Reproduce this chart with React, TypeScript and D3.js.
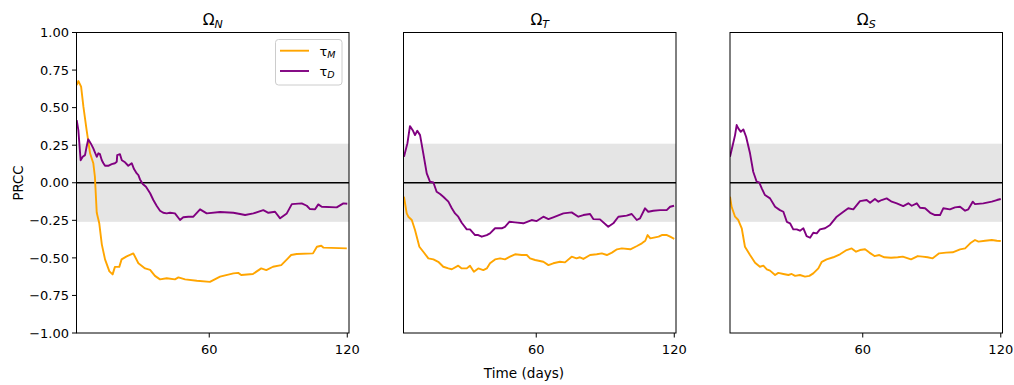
import React from 'react';
import * as d3 from 'd3';

// ---- data: [day, PRCC] ----
const omegaN_tauM: [number, number][] = [
  [2.4, 0.65], [3.1, 0.677], [4.3, 0.64], [5.3, 0.506], [6.7, 0.35], [8.2, 0.196], [9.6, 0.13], [10.3, 0.04],
  [11.1, -0.2], [12.2, -0.27], [13.3, -0.41], [14.7, -0.51], [16.6, -0.59], [18.0, -0.61], [19.0, -0.56],
  [20.9, -0.56], [21.9, -0.51], [24.1, -0.49], [27.0, -0.47], [29.2, -0.536], [32.1, -0.57], [34.3, -0.58],
  [36.4, -0.62], [38.6, -0.643], [41.5, -0.636], [45.1, -0.643], [46.6, -0.63], [49.5, -0.643], [54.6, -0.652],
  [60.3, -0.66], [64.7, -0.625], [70.5, -0.603], [72.6, -0.6], [73.9, -0.614], [79.0, -0.607], [82.6, -0.57],
  [84.8, -0.581], [87.7, -0.559], [91.3, -0.548], [94.2, -0.503], [95.6, -0.481], [98.0, -0.474], [105.1, -0.47],
  [106.8, -0.426], [108.7, -0.419], [109.7, -0.432], [119.8, -0.437],
];
const omegaN_tauD: [number, number][] = [
  [2.4, 0.417], [3.1, 0.35], [4.1, 0.15], [5.0, 0.173], [6.0, 0.184], [6.7, 0.24], [7.4, 0.289], [8.5, 0.262],
  [9.6, 0.229], [11.1, 0.173], [11.8, 0.196], [12.5, 0.19], [13.3, 0.15], [14.0, 0.13], [14.7, 0.113],
  [16.1, 0.113], [17.6, 0.124], [19.0, 0.13], [19.8, 0.14], [20.0, 0.184], [21.2, 0.19], [22.0, 0.15],
  [23.4, 0.136], [24.8, 0.113], [26.3, 0.13], [27.3, 0.091], [28.5, 0.062], [29.2, 0.051], [29.9, 0.022],
  [31.1, -0.009], [32.5, -0.027], [34.3, -0.07], [35.7, -0.115], [37.2, -0.155], [38.6, -0.186], [40.0, -0.2],
  [41.5, -0.204], [43.0, -0.2], [45.1, -0.204], [47.3, -0.248], [48.7, -0.23], [50.9, -0.226], [53.1, -0.226],
  [56.0, -0.177], [58.9, -0.204], [64.7, -0.195], [70.5, -0.2], [73.4, -0.208], [75.6, -0.215], [79.2, -0.204],
  [83.5, -0.182], [85.7, -0.2], [88.6, -0.193], [90.8, -0.237], [93.7, -0.204], [95.9, -0.142], [100.2, -0.137],
  [102.4, -0.153], [103.8, -0.175], [106.0, -0.177], [107.4, -0.144], [108.9, -0.16], [115.4, -0.164],
  [118.3, -0.137], [120.0, -0.14],
];
const omegaT_tauM: [number, number][] = [
  [2.5, -0.093], [3.7, -0.204], [4.4, -0.226], [5.9, -0.248], [7.3, -0.315], [9.2, -0.426], [10.9, -0.459],
  [13.1, -0.503], [15.3, -0.51], [17.4, -0.526], [19.6, -0.559], [21.8, -0.57], [23.3, -0.576], [26.1, -0.552],
  [27.6, -0.57], [29.8, -0.57], [31.2, -0.552], [32.9, -0.592], [34.8, -0.57], [37.0, -0.581], [38.5, -0.57],
  [39.9, -0.536], [42.1, -0.51], [44.3, -0.503], [46.4, -0.51], [48.6, -0.492], [50.8, -0.476], [53.7, -0.481],
  [55.9, -0.481], [57.3, -0.503], [59.5, -0.514], [63.1, -0.526], [65.3, -0.548], [67.4, -0.536], [70.3, -0.526],
  [72.5, -0.53], [75.4, -0.492], [77.5, -0.503], [79.0, -0.496], [80.5, -0.507], [83.4, -0.481], [86.3, -0.476],
  [88.5, -0.47], [90.7, -0.481], [92.9, -0.465], [95.1, -0.443], [97.2, -0.437], [100.9, -0.443], [103.8, -0.421],
  [105.9, -0.403], [107.4, -0.386], [108.4, -0.348], [109.6, -0.37], [113.2, -0.359], [114.6, -0.348],
  [116.8, -0.348], [118.2, -0.359], [120.0, -0.373],
];
const omegaT_tauD: [number, number][] = [
  [2.5, 0.173], [4.0, 0.262], [5.1, 0.377], [6.3, 0.35], [7.3, 0.317], [8.3, 0.346], [9.5, 0.317], [10.9, 0.196],
  [12.4, 0.062], [13.8, 0.007], [15.3, 0.002], [16.7, -0.06], [18.2, -0.075], [19.6, -0.093], [21.8, -0.126],
  [23.3, -0.17], [24.7, -0.204], [26.1, -0.226], [27.6, -0.266], [29.8, -0.31], [31.2, -0.31], [33.4, -0.348],
  [34.8, -0.348], [36.3, -0.359], [38.5, -0.348], [39.9, -0.337], [42.1, -0.303], [45.0, -0.303], [46.4, -0.293],
  [48.3, -0.26], [50.8, -0.264], [54.4, -0.27], [58.0, -0.248], [60.2, -0.255], [63.1, -0.226], [65.3, -0.242],
  [67.4, -0.23], [71.8, -0.204], [75.4, -0.197], [78.3, -0.226], [80.5, -0.215], [83.4, -0.208], [84.8, -0.242],
  [87.7, -0.244], [91.3, -0.293], [93.5, -0.27], [95.7, -0.226], [99.3, -0.219], [101.5, -0.208], [103.7, -0.248],
  [105.1, -0.237], [107.3, -0.17], [108.7, -0.193], [110.9, -0.186], [113.8, -0.182], [116.7, -0.182],
  [118.2, -0.16], [119.9, -0.153],
];
const omegaS_tauM: [number, number][] = [
  [2.3, -0.093], [3.0, -0.16], [4.5, -0.226], [5.9, -0.248], [7.4, -0.303], [8.8, -0.426], [11.0, -0.481],
  [13.2, -0.532], [15.3, -0.559], [16.8, -0.552], [18.3, -0.576], [19.7, -0.585], [21.9, -0.614], [23.3, -0.6],
  [25.5, -0.607], [27.7, -0.614], [29.1, -0.607], [30.6, -0.62], [32.7, -0.614], [34.9, -0.625], [36.8, -0.62],
  [38.5, -0.603], [40.7, -0.57], [42.2, -0.526], [44.3, -0.51], [47.2, -0.496], [50.1, -0.476], [53.0, -0.448],
  [55.2, -0.437], [57.1, -0.459], [58.8, -0.448], [61.0, -0.443], [62.9, -0.465], [65.1, -0.488], [67.2, -0.481],
  [69.4, -0.496], [72.3, -0.499], [75.2, -0.496], [77.4, -0.492], [81.0, -0.51], [83.9, -0.488], [86.0, -0.492],
  [88.2, -0.496], [90.4, -0.503], [93.2, -0.47], [96.2, -0.465], [99.1, -0.463], [102.3, -0.443], [104.5, -0.437],
  [106.7, -0.403], [108.8, -0.381], [110.3, -0.392], [113.2, -0.386], [116.1, -0.381], [118.3, -0.386],
  [120.0, -0.388],
];
const omegaS_tauD: [number, number][] = [
  [2.3, 0.173], [3.5, 0.251], [4.5, 0.317], [5.2, 0.384], [5.9, 0.362], [7.0, 0.339], [8.1, 0.355], [9.3, 0.306],
  [11.0, 0.196], [12.4, 0.073], [13.9, 0.007], [15.0, 0.002], [16.1, -0.037], [17.5, -0.082], [19.7, -0.104],
  [21.9, -0.16], [24.0, -0.182], [25.5, -0.193], [27.0, -0.26], [28.4, -0.27], [29.8, -0.31], [31.3, -0.31],
  [32.7, -0.319], [34.2, -0.303], [35.6, -0.355], [37.1, -0.366], [38.5, -0.333], [40.0, -0.337], [41.4, -0.31],
  [43.6, -0.303], [45.8, -0.281], [48.7, -0.226], [51.6, -0.193], [53.7, -0.17], [55.9, -0.177], [58.8, -0.122],
  [61.7, -0.115], [63.2, -0.133], [65.3, -0.108], [66.8, -0.126], [68.2, -0.115], [70.4, -0.104], [72.6, -0.126],
  [74.8, -0.137], [77.6, -0.155], [79.8, -0.137], [81.3, -0.153], [83.5, -0.137], [84.9, -0.166], [87.1, -0.17],
  [89.3, -0.2], [91.4, -0.215], [93.6, -0.215], [95.0, -0.17], [97.9, -0.177], [100.1, -0.164], [102.3, -0.16],
  [104.5, -0.186], [105.9, -0.177], [107.8, -0.126], [108.8, -0.142], [112.4, -0.137], [116.1, -0.126],
  [118.3, -0.115], [120.0, -0.108],
];

const panelSubscripts = ['N', 'T', 'S'];
const seriesNames = ['M', 'D'];
const yTickValues = [1, 0.75, 0.5, 0.25, 0, -0.25, -0.5, -0.75, -1];
const xTickValues = [60, 120];
const xDomain = [2.3, 120.75];
const yDomain = [-1, 1];
const bandHalfWidth = 0.26;

const COLORS = ['#ffa500', '#800080'];
const FONT = 'DejaVu Sans, sans-serif';

const panelData = [
  [omegaN_tauM, omegaN_tauD],
  [omegaT_tauM, omegaT_tauD],
  [omegaS_tauM, omegaS_tauD],
];

const fmtTick = (v: number) => {
  const s = Math.abs(v).toFixed(2);
  return v < 0 ? '\u2212' + s : s;
};

export default function App() {
  const W = 1014, H = 385;
  const lefts = [76.5, 403.5, 730];
  const pw = 272.5;
  const top = 32.5, bottom = 333;
  const y = d3.scaleLinear().domain(yDomain).range([bottom, top]);

  return (
    <svg width={W} height={H} style={{ position: 'fixed', left: 0, top: 0, background: '#fff' }} fontFamily={FONT}>
      <rect x={0} y={0} width={W} height={H} fill="#fff" />
      {panelData.map((series, pi) => {
        const L = lefts[pi];
        const x = d3.scaleLinear().domain(xDomain).range([L, L + pw]);
        const line = d3.line<[number, number]>().x(d => x(d[0])).y(d => y(d[1]));
        const cx = L + pw / 2;
        return (
          <g key={pi}>
            <defs>
              <clipPath id={`clip${pi}`}>
                <rect x={L} y={top} width={pw} height={bottom - top} />
              </clipPath>
            </defs>
            <rect x={L} y={y(bandHalfWidth)} width={pw} height={y(-bandHalfWidth) - y(bandHalfWidth)} fill="#e5e5e5" />
            <line x1={L} x2={L + pw} y1={y(0)} y2={y(0)} stroke="#000" strokeWidth={1.3} />
            <g clipPath={`url(#clip${pi})`}>
              {series.map((s, si) => (
                <path key={si} d={line(s) || ''} fill="none" stroke={COLORS[si]} strokeWidth={1.9} strokeLinejoin="round" />
              ))}
            </g>
            <rect x={L} y={top} width={pw} height={bottom - top} fill="none" stroke="#000" strokeWidth={1} />
            {xTickValues.map(t => (
              <g key={t}>
                <line x1={x(t)} x2={x(t)} y1={bottom} y2={bottom + 4.5} stroke="#000" strokeWidth={1} />
                <text x={x(t)} y={bottom + 20.5} textAnchor="middle" fontSize={13} fill="#000">{t}</text>
              </g>
            ))}
            {pi === 0 && yTickValues.map(t => (
              <g key={t}>
                <line x1={L - 4.5} x2={L} y1={y(t)} y2={y(t)} stroke="#000" strokeWidth={1} />
                <text x={L - 7.5} y={y(t) + 4.7} textAnchor="end" fontSize={13} fill="#000">{fmtTick(t)}</text>
              </g>
            ))}
            <text x={cx} y={25} textAnchor="middle" fontSize={15.5} fill="#000">
              Ω<tspan fontStyle="italic" fontSize={11} dy={2.5}>{panelSubscripts[pi]}</tspan>
            </text>
          </g>
        );
      })}
      {/* legend */}
      <g>
        <rect x={275.5} y={39.5} width={66.5} height={45.5} rx={3} fill="#fff" fillOpacity={0.8} stroke="#cccccc" strokeWidth={1} />
        {seriesNames.map((n, i) => (
          <g key={n}>
            <line x1={280} x2={309} y1={50.7 + i * 20.3} y2={50.7 + i * 20.3} stroke={COLORS[i]} strokeWidth={1.9} />
            <text x={319.5} y={55.5 + i * 20.3} fontSize={13} fill="#000">
              τ<tspan fontStyle="italic" fontSize={9.5} dy={2.5}>{n}</tspan>
            </text>
          </g>
        ))}
      </g>
      <text x={524} y={378} textAnchor="middle" fontSize={13.6} fill="#000">Time (days)</text>
      <text transform="translate(22.5,183) rotate(-90)" textAnchor="middle" fontSize={13.3} fill="#000">PRCC</text>
    </svg>
  );
}
